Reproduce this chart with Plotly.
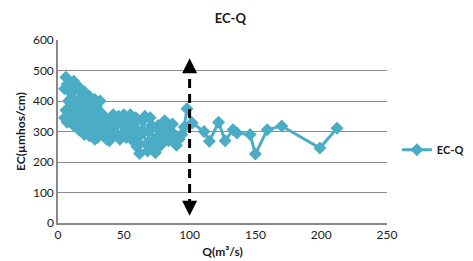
import plotly.graph_objects as go

# Discharge Q (m3/s) and electrical conductivity EC (umhos/cm), in observation order
q = [6, 5, 7, 9, 8, 6, 5, 7, 9, 11, 10, 12, 13, 11, 10, 12, 14, 15, 16, 17,
     15, 14, 16, 18, 17, 19, 20, 21, 19, 18, 20, 22, 23, 22, 24, 25, 23, 21, 24, 26,
     27, 26, 28, 29, 27, 28, 30, 31, 30, 32, 33, 31, 29,
     34, 36, 35, 37, 38, 40, 42, 41, 39, 43, 44, 46, 45, 47, 49, 50, 48, 51, 52, 53,
     55, 54, 56, 58, 57, 59, 60, 61, 60, 62, 63, 64, 66, 65, 67, 68, 69, 70, 71, 72,
     73, 74, 75, 76, 77, 78, 80, 79, 81, 83, 82, 84, 86, 87, 88, 89, 90, 92, 94, 96,
     98, 102, 111, 115, 122, 127, 133, 136, 146, 150, 159, 170, 199, 212]
ec = [478, 440, 455, 430, 400, 370, 345, 330, 360, 410, 450, 465, 440, 385, 340, 320, 355, 400, 445, 430,
      370, 330, 305, 320, 360, 395, 430, 410, 350, 300, 290, 320, 370, 405, 415, 385, 340, 295, 285, 310,
      355, 395, 405, 380, 320, 275, 280, 330, 370, 400, 360, 300, 290,
      350, 320, 285, 275, 310, 345, 355, 300, 270, 290, 330, 350, 290, 275, 320, 355, 340, 290, 280, 330,
      355, 305, 285, 265, 320, 345, 340, 300, 250, 228, 290, 335, 350, 300, 260, 236, 300, 345, 320, 270,
      245, 230, 280, 320, 305, 255, 270, 310, 335, 325, 290, 270, 300, 325, 290, 265, 255, 275, 290, 315,
      375, 328, 300, 268, 330, 270, 306, 295, 290, 226, 306, 318, 246, 311]

x_ticks = [0, 50, 100, 150, 200, 250]
y_ticks = [0, 100, 200, 300, 400, 500, 600]
marker_q = 100
arrow_top = 540
arrow_bottom = 24

color = "#4BACC6"
font = "Lato, 'Open Sans', sans-serif"

fig = go.Figure()
fig.add_trace(go.Scatter(
    x=q, y=ec, mode="lines+markers", name="<b>EC-Q</b>",
    line=dict(color=color, width=3),
    marker=dict(symbol="diamond", size=10, color=color),
))

fig.add_shape(type="line", xref="x", yref="y",
              x0=marker_q, x1=marker_q, y0=arrow_bottom + 25, y1=arrow_top - 25,
              line=dict(color="black", width=3, dash="9px,6px"))
fig.add_annotation(x=marker_q, y=arrow_top, ax=0, ay=14, xref="x", yref="y",
                   showarrow=True, arrowhead=2, arrowsize=1.2, arrowwidth=2.5,
                   arrowcolor="black", text="")
fig.add_annotation(x=marker_q, y=arrow_bottom, ax=0, ay=-14, xref="x", yref="y",
                   showarrow=True, arrowhead=2, arrowsize=1.2, arrowwidth=2.5,
                   arrowcolor="black", text="")

fig.update_layout(
    width=473, height=261,
    margin=dict(l=50, r=89, t=32, b=46),
    paper_bgcolor="white", plot_bgcolor="white",
    font=dict(family=font, size=12, color="#1a1a1a"),
    title=dict(text="<b>EC-Q</b>", x=0.47, xanchor="center", y=0.96, yanchor="middle",
               font=dict(size=13, color="#1a1a1a")),
    showlegend=True,
    legend=dict(x=1.03, y=0.40, xanchor="left", yanchor="middle",
                font=dict(size=11, color="#1a1a1a"), bgcolor="rgba(0,0,0,0)",
                itemwidth=30),
    xaxis=dict(range=[0, 250], tickvals=x_ticks, showgrid=False, zeroline=False,
               showline=True, linecolor="#888", linewidth=1.5, ticks="",
               title=dict(text="<b>Q(m³/s)</b>", font=dict(size=12), standoff=6),
               tickfont=dict(size=12)),
    yaxis=dict(range=[0, 600], tickvals=y_ticks, showgrid=True, gridcolor="#8c8c8c",
               gridwidth=1, zeroline=False, showline=True, linecolor="#888", linewidth=1.5,
               ticks="", title=dict(text="<b>EC(µmhos/cm)</b>", font=dict(size=12), standoff=5),
               tickfont=dict(size=12)),
)

fig.write_html("out.html")
